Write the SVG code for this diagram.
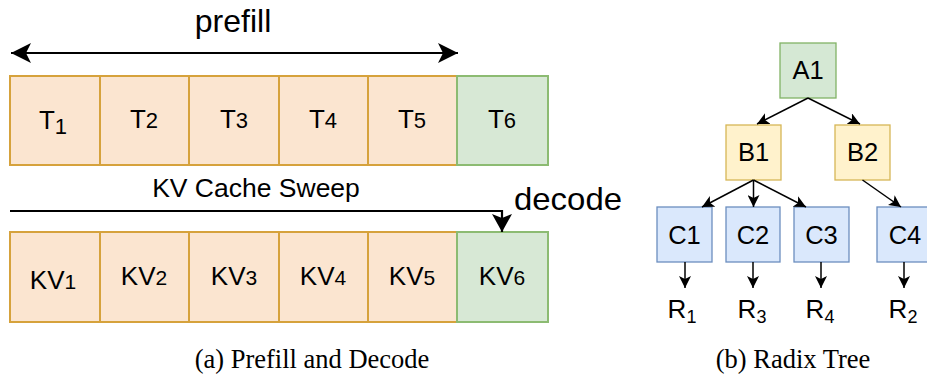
<svg xmlns="http://www.w3.org/2000/svg" width="927" height="381" viewBox="0 0 927 381">
  <style>
    text { font-family: "Liberation Sans", Arial, sans-serif; fill: #000; }
    .cap { font-family: "Liberation Serif", "Times New Roman", serif; font-size: 26.5px; }
    .big { font-size: 32px; }
    .cell { font-size: 26px; text-anchor: middle; }
    .node { font-size: 25.5px; text-anchor: middle; }
    .tok { fill: #fbe5d0; stroke: #d6a23c; stroke-width: 2; }
    .cur { fill: #d7e8d5; stroke: #8cbb72; stroke-width: 2; }
    .g { fill: #d5e8d4; stroke: #82b366; stroke-width: 1.3; }
    .y { fill: #fff2cc; stroke: #d6b656; stroke-width: 1.3; }
    .b { fill: #dae8fc; stroke: #6c8ebf; stroke-width: 1.3; }
    .edge { fill: none; stroke: #000; stroke-width: 1.5; }
    .bold { fill: none; stroke: #000; stroke-width: 2.2; }
  </style>
  <defs>
    <marker id="bigHead" viewBox="0 0 20 20" refX="20" refY="10" markerWidth="20" markerHeight="20" markerUnits="userSpaceOnUse" orient="auto-start-reverse">
      <path d="M0,0 L20,10 L0,20 L5,10 Z" fill="#000"/>
    </marker>
    <marker id="midHead" viewBox="0 0 18 20" refX="18" refY="10" markerWidth="18" markerHeight="20" markerUnits="userSpaceOnUse" orient="auto">
      <path d="M0,0 L18,10 L0,20 L4,10 Z" fill="#000"/>
    </marker>
    <marker id="smallHead" viewBox="0 0 12 12" refX="12" refY="6" markerWidth="12" markerHeight="12" markerUnits="userSpaceOnUse" orient="auto">
      <path d="M0,0 L12,6 L0,12 L3,6 Z" fill="#000"/>
    </marker>
  </defs>

  <!-- (a) prefill and decode -->
  <text class="big" x="233" y="32" text-anchor="middle">prefill</text>

  <g id="tokens">
    <g id="T1"><rect class="tok" x="10" y="76" width="90" height="89"/><text class="cell" x="53" y="129">T<tspan font-size="22" dy="5">1</tspan></text></g>
    <g id="T2"><rect class="tok" x="100" y="76" width="89" height="89"/><text class="cell" x="144" y="128">T<tspan font-size="22">2</tspan></text></g>
    <g id="T3"><rect class="tok" x="189" y="76" width="90" height="89"/><text class="cell" x="234" y="128">T<tspan font-size="22">3</tspan></text></g>
    <g id="T4"><rect class="tok" x="279" y="76" width="89" height="89"/><text class="cell" x="323" y="128">T<tspan font-size="22">4</tspan></text></g>
    <g id="T5"><rect class="tok" x="368" y="76" width="89" height="89"/><text class="cell" x="412" y="128">T<tspan font-size="22">5</tspan></text></g>
    <g id="T6"><rect class="cur" x="457" y="76" width="91" height="89"/><text class="cell" x="502" y="128">T<tspan font-size="22">6</tspan></text></g>
  </g>

  <text x="256" y="197" font-size="26.5" text-anchor="middle">KV Cache Sweep</text>
  <text class="big" x="514" y="210" textLength="108" lengthAdjust="spacingAndGlyphs">decode</text>

  <g id="kvcache">
    <g id="KV1"><rect class="tok" x="10" y="232" width="90" height="90"/><text class="cell" x="53" y="289">KV<tspan font-size="21">1</tspan></text></g>
    <g id="KV2"><rect class="tok" x="100" y="232" width="89" height="90"/><text class="cell" x="144" y="285">KV<tspan font-size="21">2</tspan></text></g>
    <g id="KV3"><rect class="tok" x="189" y="232" width="90" height="90"/><text class="cell" x="234" y="285">KV<tspan font-size="21">3</tspan></text></g>
    <g id="KV4"><rect class="tok" x="279" y="232" width="89" height="90"/><text class="cell" x="323" y="285">KV<tspan font-size="21">4</tspan></text></g>
    <g id="KV5"><rect class="tok" x="368" y="232" width="89" height="90"/><text class="cell" x="412" y="285">KV<tspan font-size="21">5</tspan></text></g>
    <g id="KV6"><rect class="cur" x="457" y="232" width="91" height="90"/><text class="cell" x="502" y="285">KV<tspan font-size="21">6</tspan></text></g>
  </g>

  <!-- (b) radix tree -->
  <g id="A1"><rect class="g" x="780" y="43" width="56" height="55"/><text class="node" x="808" y="79">A1</text></g>
  <g id="B1"><rect class="y" x="726" y="125" width="55" height="55"/><text class="node" x="753.5" y="161">B1</text></g>
  <g id="B2"><rect class="y" x="835" y="125" width="55" height="55"/><text class="node" x="862.5" y="161">B2</text></g>
  <g id="C1"><rect class="b" x="657" y="207" width="55" height="55"/><text class="node" x="684.5" y="243.5">C1</text></g>
  <g id="C2"><rect class="b" x="726" y="207" width="54" height="55"/><text class="node" x="753" y="243.5">C2</text></g>
  <g id="C3"><rect class="b" x="794" y="207" width="55" height="55"/><text class="node" x="821.5" y="243.5">C3</text></g>
  <g id="C4"><rect class="b" x="877" y="207" width="56" height="55"/><text class="node" x="905" y="243.5">C4</text></g>

  <g id="R1"><text class="cell" x="682" y="317.5">R<tspan font-size="18" dy="5">1</tspan></text></g>
  <g id="R3"><text class="cell" x="752" y="317.5">R<tspan font-size="18" dy="5">3</tspan></text></g>
  <g id="R4"><text class="cell" x="820" y="317.5">R<tspan font-size="18" dy="5">4</tspan></text></g>
  <g id="R2"><text class="cell" x="903" y="317.5">R<tspan font-size="18" dy="5">2</tspan></text></g>

  <g id="connectors">
    <path class="bold" d="M11,53 H458" marker-start="url(#bigHead)" marker-end="url(#bigHead)"/>
    <path class="bold" d="M10,211 H502 V232" marker-end="url(#midHead)"/>
    <path class="edge" d="M808,98 L757,124" marker-end="url(#smallHead)"/>
    <path class="edge" d="M808,98 L860,124" marker-end="url(#smallHead)"/>
    <path class="edge" d="M753.5,180 L702,207" marker-end="url(#smallHead)"/>
    <path class="edge" d="M753.5,180 L753.5,207" marker-end="url(#smallHead)"/>
    <path class="edge" d="M753.5,180 L806,207" marker-end="url(#smallHead)"/>
    <path class="edge" d="M862.5,180 L901,207" marker-end="url(#smallHead)"/>
    <path class="edge" d="M685,262 V288" marker-end="url(#smallHead)"/>
    <path class="edge" d="M753,262 V288" marker-end="url(#smallHead)"/>
    <path class="edge" d="M821,262 V288" marker-end="url(#smallHead)"/>
    <path class="edge" d="M904,262 V288" marker-end="url(#smallHead)"/>
  </g>

  <text class="cap" x="312" y="368" text-anchor="middle">(a) Prefill and Decode</text>
  <text class="cap" x="793" y="368" text-anchor="middle">(b) Radix Tree</text>
</svg>
